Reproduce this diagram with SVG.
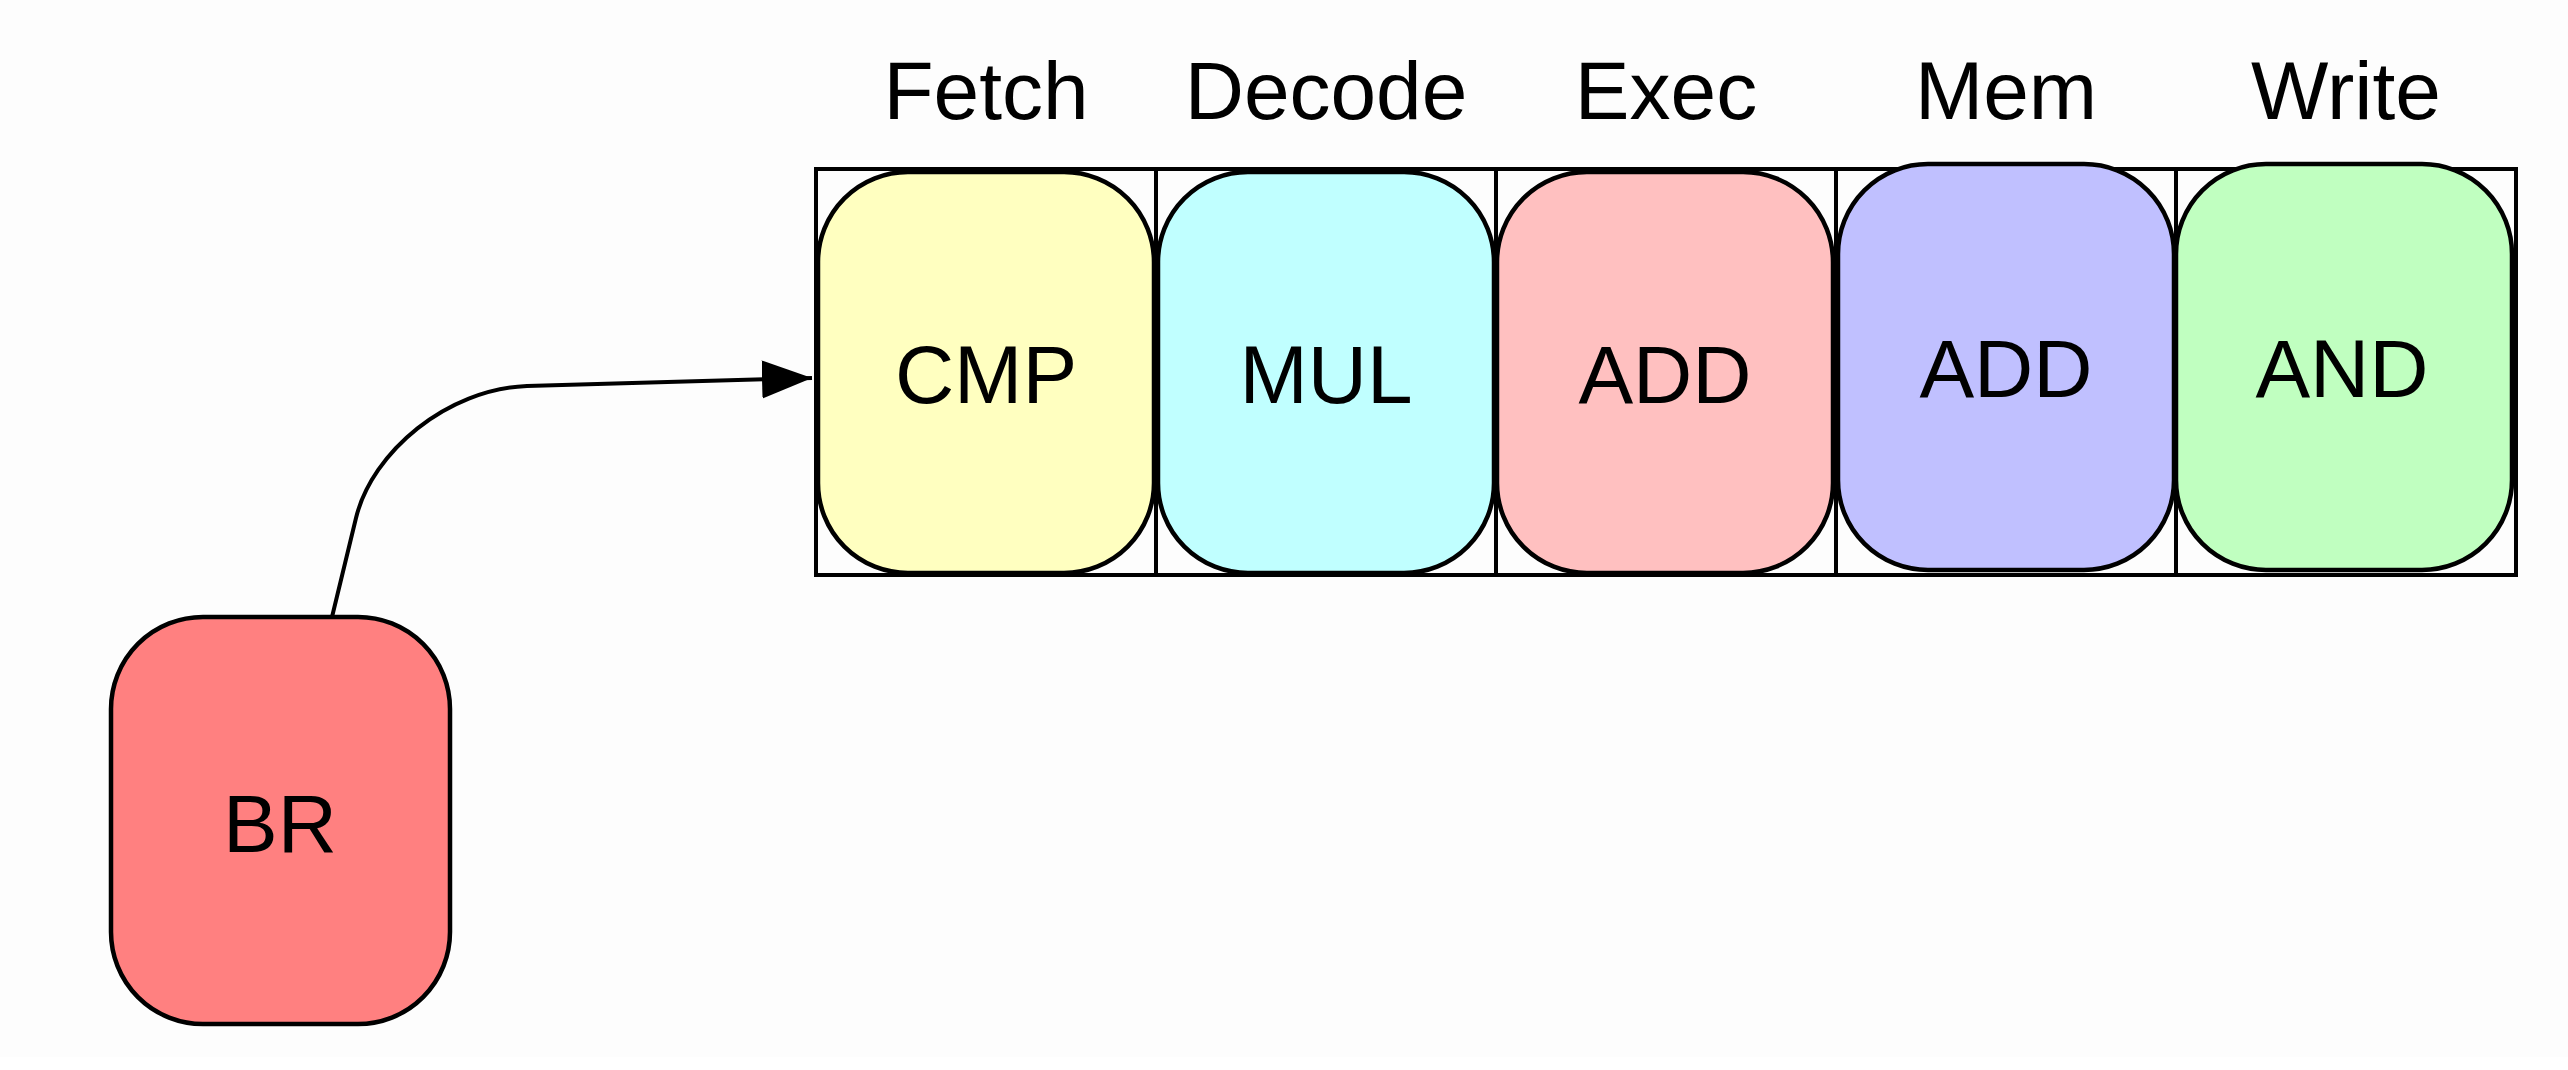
<svg xmlns="http://www.w3.org/2000/svg" width="2568" height="1070" viewBox="0 0 2568 1070">
<style>
.lbl{font-family:"Liberation Sans",Arial,Helvetica,sans-serif;font-size:82px;fill:#000;text-anchor:middle}
.node{stroke:#000;stroke-width:4.5}
.grid{fill:none;stroke:#000;stroke-width:4}
.conn{fill:none;stroke:#000;stroke-width:4}
</style>
<defs>
<marker id="arr" markerUnits="userSpaceOnUse" markerWidth="52" markerHeight="40" refX="50" refY="19" orient="auto">
<path d="M0,0 L50,19 L0,38 Z" fill="#000"/>
</marker>
</defs>
<rect x="0" y="0" width="2568" height="1070" fill="#fdfdfd"/>
<rect x="0" y="1057" width="2568" height="13" fill="#ffffff"/>
<g id="headers">
<text class="lbl" x="986" y="119">Fetch</text>
<text class="lbl" x="1326" y="119">Decode</text>
<text class="lbl" x="1666" y="119">Exec</text>
<text class="lbl" x="2006" y="119">Mem</text>
<text class="lbl" x="2346" y="119">Write</text>
</g>
<g id="grid">
<rect class="grid" x="816" y="169" width="1700" height="406" fill="#ffffff"/>
<line class="grid" x1="1156" y1="169" x2="1156" y2="575"/>
<line class="grid" x1="1496" y1="169" x2="1496" y2="575"/>
<line class="grid" x1="1836" y1="169" x2="1836" y2="575"/>
<line class="grid" x1="2176" y1="169" x2="2176" y2="575"/>
</g>
<g id="node-cmp">
<rect class="node" x="818" y="172" width="336" height="401" rx="90" ry="90" fill="#ffffc0"/>
<text class="lbl" x="986" y="403">CMP</text>
</g>
<g id="node-mul">
<rect class="node" x="1158" y="172" width="336" height="401" rx="90" ry="90" fill="#c0ffff"/>
<text class="lbl" x="1326" y="403">MUL</text>
</g>
<g id="node-add-exec">
<rect class="node" x="1497" y="172" width="336" height="401" rx="90" ry="90" fill="#ffc0c0"/>
<text class="lbl" x="1665" y="403">ADD</text>
</g>
<g id="node-add-mem">
<rect class="node" x="1838" y="164" width="336" height="406" rx="90" ry="90" fill="#c0c0ff"/>
<text class="lbl" x="2006" y="397">ADD</text>
</g>
<g id="node-and">
<rect class="node" x="2176" y="164" width="336" height="406" rx="90" ry="90" fill="#c0ffc0"/>
<text class="lbl" x="2342" y="397">AND</text>
</g>
<g id="node-br">
<rect class="node" x="111" y="617" width="339" height="407" rx="92" ry="92" fill="#ff8080"/>
<text class="lbl" x="280" y="852">BR</text>
</g>
<g id="connectors">
<path class="conn" d="M332,617 L356,518 C372,452 447,389 527,386 L812,378" marker-end="url(#arr)"/>
</g>
</svg>
